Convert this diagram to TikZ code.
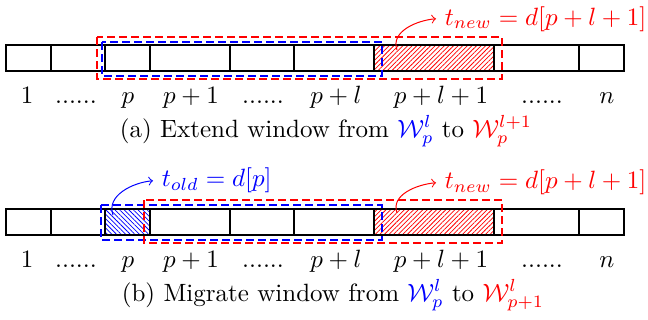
\documentclass[tikz,border=0pt]{standalone}
\usepackage{amsmath}
\usepackage{amssymb}
\usepackage{tikz}
\usetikzlibrary{patterns.meta}

\newcommand{\pxu}{0.4pt}
\newcommand{\skipdots}{......}

\tikzset{
  cell/.style={draw, line width=0.5pt, inner sep=0pt, outer sep=0pt, anchor=north west, minimum height=26*\pxu},
  winold/.style={draw=blue, line width=1pt, dash pattern=on 3.2pt off 1.6pt},
  winnew/.style={draw=red, line width=1pt, dash pattern=on 3.2pt off 1.6pt},
  hatchnew/.style={pattern={Lines[angle=45,distance=1.3pt,line width=0.3pt]}, pattern color=red},
  hatchold/.style={pattern={Lines[angle=-45,distance=1.3pt,line width=0.3pt]}, pattern color=blue},
  idx/.style={anchor=base, inner sep=0pt},
}

\begin{document}
\begin{tikzpicture}[x=\pxu, y=-\pxu]
  \useasboundingbox (0,0) rectangle (648,320);

  % (a) extend
  \foreach \x/\w/\s [count=\i] in {6/45/, 51/54/, 105/45/, 150/80/, 230/64/, 294/80/, 374/120/hatchnew, 494/85/, 579/45/}
    \node[cell, \s, minimum width=\w*\pxu] (a\i) at (\x,45) {};
  \foreach \x/\t [count=\i] in {27/$1$, 76/\skipdots, 128/$p$, 191/$p+1$, 263/\skipdots, 336/$p+l$, 441/$p+l+1$, 542/\skipdots, 607/$n$}
    \node[idx] (la\i) at (\x,103) {\t};
  \draw[winnew] (97,37) rectangle (502,79);
  \draw[winold] (102,42) rectangle (382,76);
  \node[anchor=base west, text=red] (tnewa) at (436,25) {$t_{new} = d[p+l+1]$};
  \coordinate (srca) at (397,50);
  \draw[red, ->] (srca) to[out=110, in=185] (tnewa.west);
  \node[idx] (capa) at (326,137) {(a) Extend window from \textcolor{blue}{$\mathcal{W}_p^l$} to \textcolor{red}{$\mathcal{W}_p^{l+1}$}};

  % (b) migrate
  \foreach \x/\w/\s [count=\i] in {6/45/, 51/54/, 105/45/hatchold, 150/80/, 230/64/, 294/80/, 374/120/hatchnew, 494/85/, 579/45/}
    \node[cell, \s, minimum width=\w*\pxu] (b\i) at (\x,209) {};
  \foreach \x/\t [count=\i] in {27/$1$, 76/\skipdots, 128/$p$, 191/$p+1$, 263/\skipdots, 336/$p+l$, 441/$p+l+1$, 542/\skipdots, 607/$n$}
    \node[idx] (lb\i) at (\x,267) {\t};
  \draw[winold] (101,205) rectangle (382,240);
  \draw[winnew] (144,200) rectangle (502,243);
  \node[anchor=base west, text=blue] (toldb) at (153,187) {$t_{old} = d[p]$};
  \coordinate (srcb) at (113,215);
  \draw[blue, ->] (srcb) to[out=110, in=185] (toldb.west);
  \node[anchor=base west, text=red] (tnewb) at (436,189) {$t_{new} = d[p+l+1]$};
  \coordinate (srcb2) at (397,213);
  \draw[red, ->] (srcb2) to[out=110, in=185] (tnewb.west);
  \node[idx] (capb) at (333,301) {(b) Migrate window from \textcolor{blue}{$\mathcal{W}_p^l$} to \textcolor{red}{$\mathcal{W}_{p+1}^l$}};
\end{tikzpicture}
\end{document}
